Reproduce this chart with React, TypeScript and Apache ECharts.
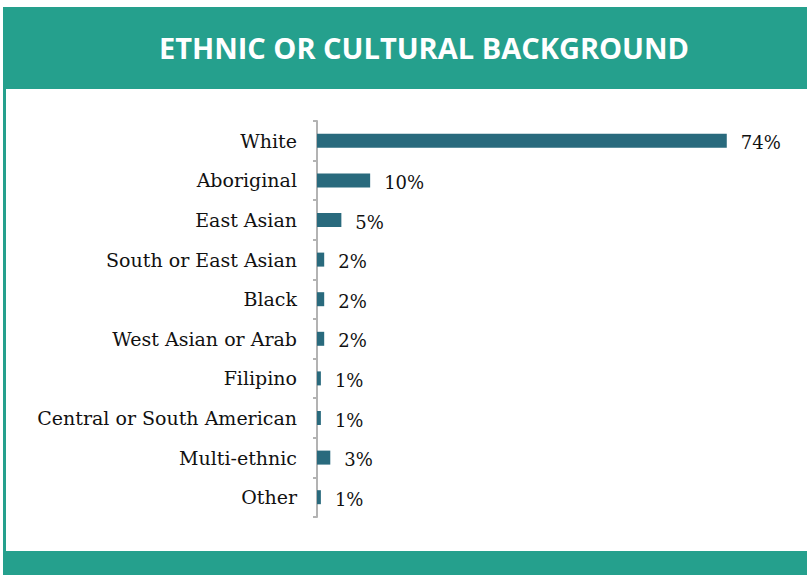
import React, { useEffect, useRef } from "react";
import * as echarts from "echarts";

const categories = [
  "White",
  "Aboriginal",
  "East Asian",
  "South or East Asian",
  "Black",
  "West Asian or Arab",
  "Filipino",
  "Central or South American",
  "Multi-ethnic",
  "Other",
];
// bar lengths (percent)
const values = [74, 9.6, 4.4, 1.3, 1.3, 1.3, 0.7, 0.7, 2.4, 0.7];
// value labels as printed in the picture
const valueLabels = ["74%", "10%", "5%", "2%", "2%", "2%", "1%", "1%", "3%", "1%"];

const TEAL = "#25a08d";
const BAR = "#296a7d";

export default function App() {
  const ref = useRef<HTMLDivElement>(null);
  useEffect(() => {
    if (!ref.current) return;
    const chart = echarts.init(ref.current, undefined, { renderer: "svg" });
    chart.setOption({
      animation: false,
      backgroundColor: "#ffffff",
      graphic: [
        { type: "rect", shape: { x: 3, y: 7, width: 804, height: 82 }, style: { fill: TEAL } },
        { type: "rect", shape: { x: 3, y: 7, width: 3, height: 568 }, style: { fill: TEAL } },
        { type: "rect", shape: { x: 3, y: 551, width: 804, height: 24 }, style: { fill: TEAL } },
        {
          type: "text",
          x: 424,
          y: 47,
          style: {
            text: "ETHNIC OR CULTURAL BACKGROUND",
            fill: "#ffffff",
            font: "bold 29px 'Open Sans'",
            textAlign: "center",
            textVerticalAlign: "middle",
          },
        },
      ],
      grid: { left: 317, top: 121, width: 443, height: 396, containLabel: false },
      xAxis: {
        type: "value",
        min: 0,
        max: 80,
        show: false,
      },
      yAxis: {
        type: "category",
        data: categories,
        inverse: true,
        axisLine: { show: true, lineStyle: { color: "#b3b3b3", width: 2 } },
        axisTick: { show: true, length: 4, lineStyle: { color: "#b3b3b3", width: 2 } },
        axisLabel: {
          margin: 20,
          color: "#111111",
          fontFamily: "DejaVu Serif",
          fontSize: 19,
        },
        splitLine: { show: false },
      },
      series: [
        {
          type: "bar",
          data: values,
          barWidth: 14,
          itemStyle: { color: BAR },
          label: {
            show: true,
            position: "right",
            distance: 14,
            offset: [0, 2],
            color: "#111111",
            fontFamily: "DejaVu Serif",
            fontSize: 18,
            formatter: (p: any) => valueLabels[p.dataIndex],
          },
        },
      ],
    });
    return () => chart.dispose();
  }, []);
  return (
    <div
      ref={ref}
      style={{ position: "fixed", left: 0, top: 0, width: 807, height: 575 }}
    />
  );
}
